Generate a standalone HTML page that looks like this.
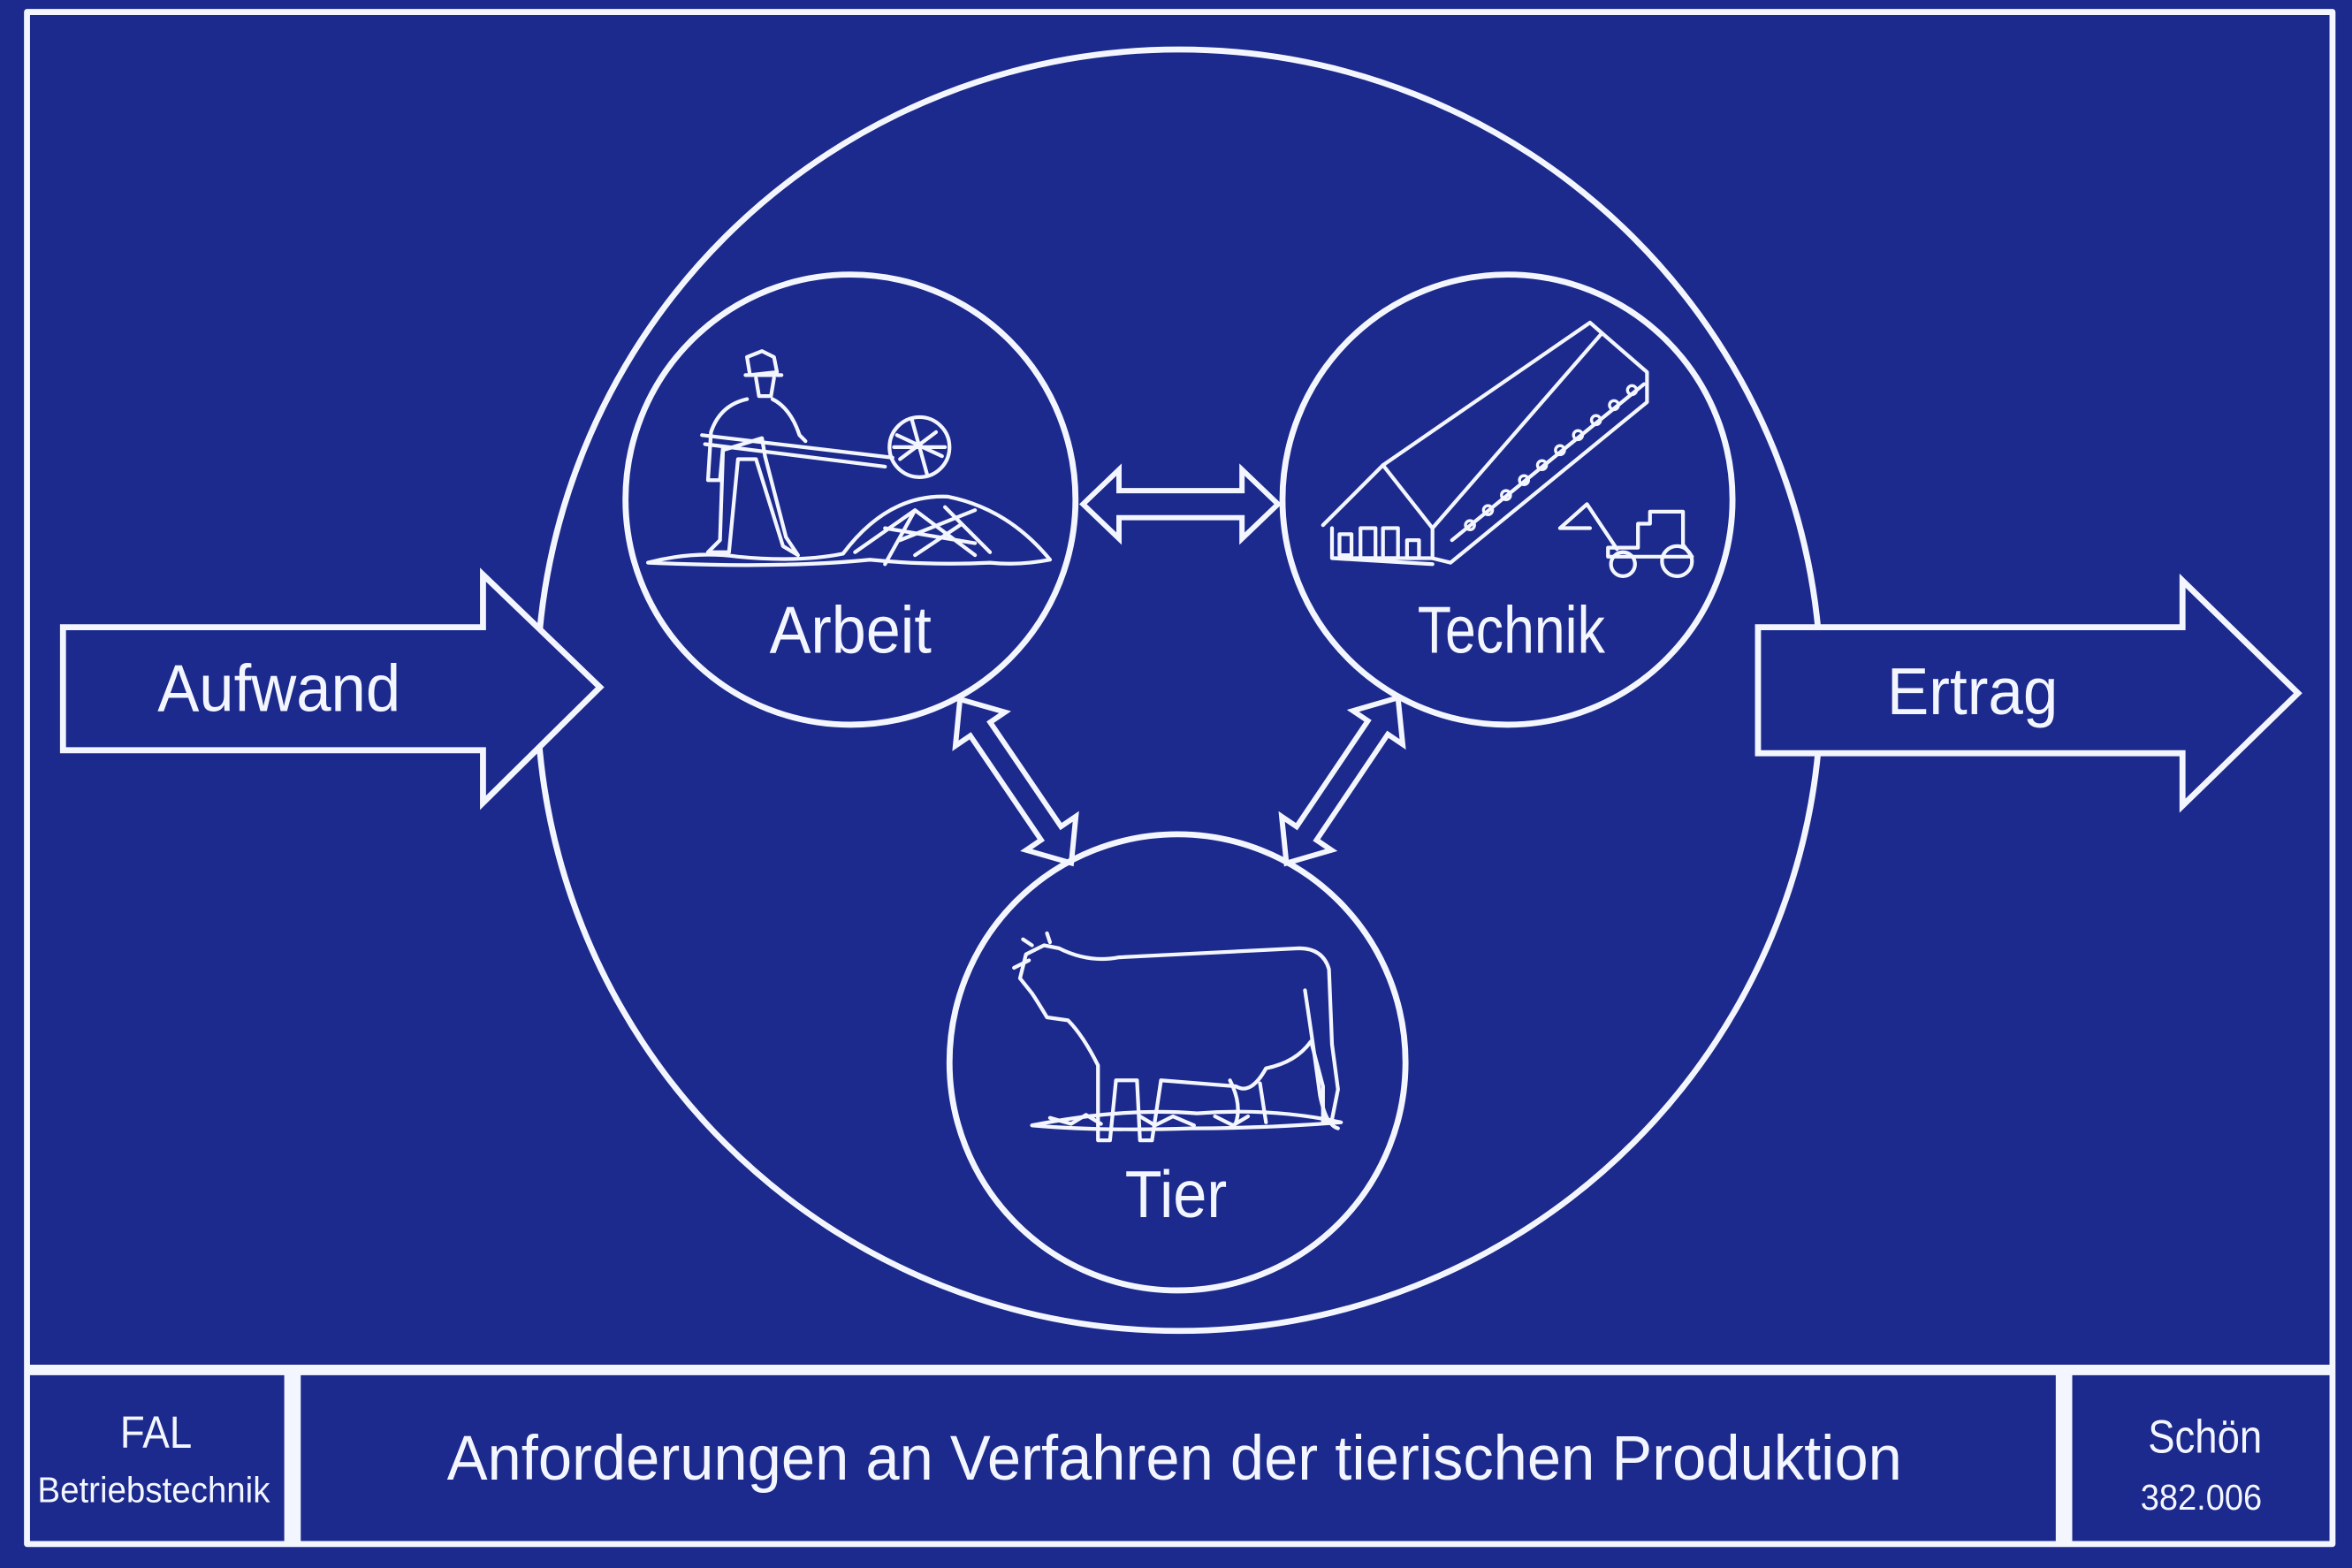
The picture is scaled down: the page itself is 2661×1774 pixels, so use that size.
<!DOCTYPE html>
<html><head><meta charset="utf-8"><style>
html,body{margin:0;padding:0;background:#1b2a8c;}
svg{display:block;}
text{font-family:"Liberation Sans Narrow","Liberation Sans",sans-serif;fill:#f4f6ff;}
</style></head><body>
<svg width="2661" height="1774" viewBox="0 0 1568 1045" preserveAspectRatio="none" xmlns="http://www.w3.org/2000/svg">
<rect width="1568" height="1045" fill="#1b2a8c"/>
<g fill="none" stroke="#f4f6ff" stroke-width="4" stroke-linejoin="round">
<rect x="18" y="8" width="1537" height="1021"/>
<line x1="18" y1="913" x2="1555" y2="913" stroke-width="7"/>
<line x1="195" y1="913" x2="195" y2="1029" stroke-width="11"/>
<line x1="1376" y1="913" x2="1376" y2="1029" stroke-width="11"/>
<ellipse cx="786" cy="460" rx="428" ry="427"/>
</g>
<!-- arrows Aufwand / Ertrag with blue fill to cover circle -->
<g fill="#1b2a8c" stroke="#f4f6ff" stroke-width="4" stroke-linejoin="miter">
<polygon points="42,418 322,418 322,383 400,458 322,535 322,500 42,500"/>
<polygon points="1172,418 1455,418 1455,387 1532,462 1455,537 1455,502 1172,502"/>
</g>
<g fill="#1b2a8c" stroke="#f4f6ff" stroke-width="4">
<circle cx="567" cy="333" r="150"/>
<circle cx="1005" cy="333" r="150"/>
<circle cx="785" cy="708" r="152"/>
</g>
<!-- double arrows -->
<g fill="none" stroke="#f4f6ff" stroke-width="3.5" stroke-linejoin="miter">
<g transform="translate(722,336)"><polygon points="0,0 24,-23 24,-9 106,-9 106,-23 130,0 106,23 106,9 24,9 24,23"/></g>
<g transform="translate(640,466) rotate(55.8)"><polygon points="0,0 24,-20 24,-8 108,-8 108,-20 132,0 108,20 108,8 24,8 24,20"/></g>
<g transform="translate(932,465) rotate(124)"><polygon points="0,0 24,-20 24,-8 109,-8 109,-20 133,0 109,20 109,8 24,8 24,20"/></g>
</g>
<!-- Arbeit illustration -->
<g fill="none" stroke="#f4f6ff" stroke-width="2.5" stroke-linejoin="round" stroke-linecap="round">
<path d="M500,250 l-2,-12 l10,-4 l8,4 l2,10 z"/>
<path d="M497,250 h24"/>
<path d="M504,252 l2,12 l8,0 l2,-12"/>
<path d="M498,266 q-18,4 -24,22 l-2,32 l8,0 l2,-22 M515,266 q12,6 18,24 l4,4"/>
<path d="M482,300 l-2,60 l-8,8 h14 l6,-62 l12,0 l18,58 l10,6 l-8,-12 l-14,-54 l-2,-12 z"/>
<path d="M468,290 L595,305 M470,296 L590,311"/>
<circle cx="613" cy="298" r="20"/>
<path d="M598,290 l30,14 M600,306 l24,-18 M608,280 l10,36 M596,298 h34"/>
<path d="M432,375 q30,-8 60,-4 q40,4 70,-2 q30,-40 70,-38 q40,8 68,42 q-20,4 -40,2 q-40,2 -80,-2 q-60,6 -148,2z"/>
<path d="M570,368 l40,-28 l40,30 M590,352 l60,10 M610,340 l-20,36 M630,338 l30,30 M600,360 l50,-20 M640,350 l-30,20"/>
</g>
<!-- Technik illustration -->
<g fill="none" stroke="#f4f6ff" stroke-width="2.5" stroke-linejoin="round" stroke-linecap="round">
<path d="M882,350 L922,310 L955,352 L1068,222 L1098,248 L1098,268 L967,375 L955,372 L955,352"/>
<path d="M922,310 L1060,215 L1068,222"/>
<path d="M888,352 L888,372 L955,372 M888,372 L955,376"/>
<path d="M893,356 v14 h8 v-14z M907,352 v20 h10 v-20z M922,352 v20 h10 v-20z M938,360 v12 h8 v-12z"/>
<path d="M968,360 l128,-104"/>
<g stroke-width="2"><circle cx="980" cy="350" r="3"/><circle cx="992" cy="340" r="3"/><circle cx="1004" cy="330" r="3"/><circle cx="1016" cy="320" r="3"/><circle cx="1028" cy="310" r="3"/><circle cx="1040" cy="300" r="3"/><circle cx="1052" cy="290" r="3"/><circle cx="1064" cy="280" r="3"/><circle cx="1076" cy="270" r="3"/><circle cx="1088" cy="260" r="3"/></g>
<path d="M1040,352 l18,-16 l20,30 M1040,352 h20"/>
<path d="M1072,365 h20 v-16 h8 v-8 h22 v22 l6,8 h-56z"/>
<circle cx="1082" cy="376" r="8"/><circle cx="1118" cy="374" r="10"/>
</g>
<!-- Tier illustration -->
<g fill="none" stroke="#f4f6ff" stroke-width="2.5" stroke-linejoin="round" stroke-linecap="round">
<path d="M684,636 l12,-6 l10,2 q20,10 40,6 l120,-6 q16,0 20,14 l2,50 l4,30 l-4,20 l-6,2 l0,-24 l-8,-30 q-10,14 -30,18 q-10,18 -20,12 l-50,-4 l-6,40 h-8 l-2,-40 l-14,0 l-4,40 h-8 l0,-50 q-10,-20 -20,-30 l-14,-2 q-6,-10 -10,-16 l-8,-10z"/>
<path d="M676,645 l10,-5 M688,630 l-6,-4 M700,628 l-2,-6"/>
<path d="M870,660 q6,40 10,70 q4,20 12,22"/>
<path d="M820,720 q8,16 4,28 M840,722 l4,26"/>
<path d="M688,750 q60,-12 110,-8 q50,-4 96,6 q-50,4 -100,4 q-60,2 -106,-2z"/>
<path d="M700,745 l14,4 l10,-6 l10,6 M760,744 l10,6 l12,-6 l14,6 M810,744 l12,6 l10,-6"/>
</g>
<!-- labels -->
<g>
<text x="105" y="474" font-size="44" textLength="162" lengthAdjust="spacingAndGlyphs">Aufwand</text>
<text x="513" y="435" font-size="44" textLength="108" lengthAdjust="spacingAndGlyphs">Arbeit</text>
<text x="945" y="435" font-size="44" textLength="125" lengthAdjust="spacingAndGlyphs">Technik</text>
<text x="1258" y="476" font-size="44" textLength="114" lengthAdjust="spacingAndGlyphs">Ertrag</text>
<text x="750" y="811" font-size="44" textLength="68" lengthAdjust="spacingAndGlyphs">Tier</text>
<text x="298" y="986" font-size="42" textLength="970" lengthAdjust="spacingAndGlyphs">Anforderungen an Verfahren der tierischen Produktion</text>
<text x="80" y="965" font-size="30" textLength="48" lengthAdjust="spacingAndGlyphs">FAL</text>
<text x="25" y="1001" font-size="24" textLength="155" lengthAdjust="spacingAndGlyphs">Betriebstechnik</text>
<text x="1432" y="968" font-size="31" textLength="76" lengthAdjust="spacingAndGlyphs">Schön</text>
<text x="1427" y="1006" font-size="24" textLength="81" lengthAdjust="spacingAndGlyphs">382.006</text>
</g>
</svg>
</body></html>
